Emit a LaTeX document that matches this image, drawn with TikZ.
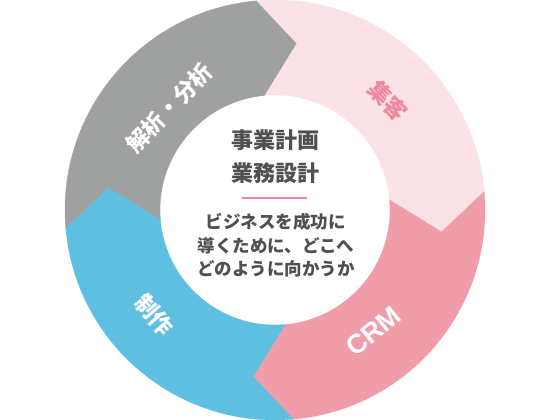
\documentclass[tikz,border=0pt]{standalone}
\usepackage{fontspec}
\setmainfont{Noto Sans CJK JP}
\newfontfamily\crmfont{Liberation Sans}
\usepackage{tikz}
\definecolor{cyclegray}{HTML}{9FA0A0}
\definecolor{cyclepale}{HTML}{FBE2E7}
\definecolor{cyclepink}{HTML}{F19CA9}
\definecolor{cycleblue}{HTML}{5EBFE0}
\definecolor{labelpink}{HTML}{EE8A9C}
\definecolor{centertext}{HTML}{505050}

\begin{document}
\begin{tikzpicture}[x=1pt,y=1pt,
    segment label/.style={text=white,inner sep=0pt,font=\fontsize{22.5}{22.5}\selectfont\bfseries},
    title text/.style={text=centertext,align=center,inner sep=0pt,font=\fontsize{22}{33}\selectfont\bfseries},
    body text/.style={text=centertext,align=center,inner sep=0pt,font=\fontsize{17.5}{23.5}\selectfont\bfseries},
    rule line/.style={labelpink,line width=2pt}]

    \useasboundingbox (-275,-210) rectangle (275,210);

    \foreach \s/\c in {185/cyclegray,95/cyclepale,5/cyclepink,-85/cycleblue}
        \filldraw[fill=\c,draw=\c,line width=0.3pt] (\s:210) arc[start angle=\s,end angle=\s-90,radius=210]
            -- (\s-102.5:168) -- (\s-90:115) arc[start angle=\s-90,end angle=\s,radius=115]
            -- (\s-12.5:168) -- cycle;

    \node[title text] (plan) at (1,53) {事業計画\\業務設計};
    \coordinate (ruleL) at (-33,12);
    \coordinate (ruleR) at (32,12);
    \draw[rule line] (ruleL) -- (ruleR);
    \node[body text] (purpose) at (1,-35.5) {ビジネスを成功に\\導くために、どこへ\\どのように向かうか};

    \node[segment label,rotate=46] (analysis) at (136:147) {解析・分析};
    \node[segment label,text=labelpink,rotate=-46] (attract) at (44:157) {集客};
    \node[segment label,rotate=-49] (produce) at (221:160) {制作};
    \node[segment label,font=\crmfont\fontsize{27}{27}\selectfont\bfseries,rotate=39] (crm) at (-51:156) {CRM};

\end{tikzpicture}
\end{document}
